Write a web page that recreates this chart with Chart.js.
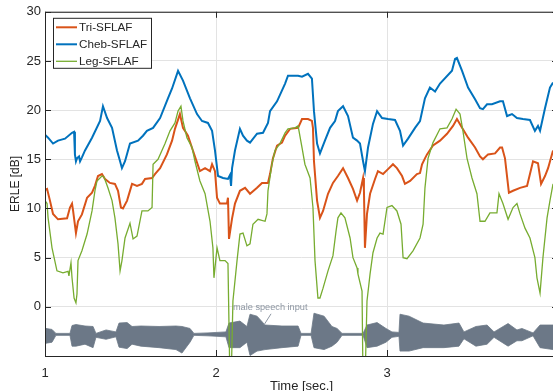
<!DOCTYPE html>
<html>
<head>
<meta charset="utf-8">
<script src="https://cdn.jsdelivr.net/npm/chart.js@4.4.1/dist/chart.umd.min.js"></script>
<style>
  html, body { margin: 0; padding: 0; overflow: hidden; background: #fff; }
  #wrap { position: absolute; left: 0; top: 0; width: 600px; height: 400px; }
</style>
</head>
<body>
<div id="wrap"><canvas id="erleChart" width="600" height="400"></canvas></div>
<script>
// ERLE curves of the three filters (time in seconds, ERLE in dB)
const seriesNames = ["Tri-SFLAF", "Cheb-SFLAF", "Leg-SFLAF"];

const triTime = [1.000,1.012,1.029,1.047,1.076,1.129,1.146,1.158,1.164,1.181,1.193,1.216,1.246,1.275,1.292,1.310,1.333,1.351,1.380,1.409,1.427,1.444,1.456,1.480,1.509,1.538,1.567,1.585,1.626,1.643,1.673,1.713,1.743,1.760,1.789,1.807,1.836,1.865,1.906,1.936,1.965,1.977,1.994,2.006,2.023,2.064,2.070,2.076,2.094,2.111,2.140,2.170,2.199,2.240,2.269,2.304,2.316,2.333,2.357,2.386,2.404,2.433,2.480,2.503,2.538,2.561,2.567,2.573,2.591,2.608,2.626,2.655,2.684,2.713,2.743,2.772,2.801,2.825,2.842,2.860,2.865,2.871,2.883,2.901,2.930,2.947,2.977,3.006,3.035,3.058,3.088,3.105,3.135,3.175,3.193,3.205,3.222,3.234,3.269,3.310,3.351,3.386,3.409,3.439,3.474,3.515,3.544,3.561,3.591,3.632,3.661,3.673,3.690,3.713,3.737,3.778,3.819,3.836,3.854,3.883,3.901,3.924,3.942,3.971];
const triErle = [11.9,12.0,10.8,9.45,8.9,9.0,10.1,10.5,9.8,7.5,8.7,9.4,11.1,11.6,12.3,13.3,13.5,13.0,12.6,12.5,11.8,10.1,10.0,10.8,12.5,12.3,12.5,13.0,13.1,13.5,14.1,15.5,16.9,18.1,19.6,18.2,17.4,15.9,13.8,14.1,13.8,14.5,13.8,11.1,10.5,10.5,11.1,6.9,9.0,10.5,11.8,12.1,11.5,12.1,12.6,12.6,13.5,15.1,16.4,16.7,17.4,18.1,18.2,19.1,19.1,18.9,18.2,14.8,10.8,9.05,9.75,11.5,12.6,13.3,14.1,13.1,12.0,10.8,11.6,13.1,12.0,6.0,9.45,11.5,13.0,13.8,13.5,14.0,14.5,14.1,13.3,12.5,12.8,13.5,13.6,14.5,15.1,15.5,16.4,16.9,17.6,18.4,19.1,18.2,17.2,16.2,15.3,15.0,15.5,15.6,16.2,16.2,15.1,11.6,11.8,12.1,12.3,13.5,14.8,14.6,12.5,13.3,14.1,15.9];

const chebTime = [1.000,1.018,1.047,1.076,1.117,1.158,1.170,1.175,1.181,1.187,1.199,1.205,1.216,1.234,1.275,1.322,1.339,1.363,1.392,1.421,1.439,1.450,1.468,1.497,1.544,1.573,1.596,1.632,1.673,1.719,1.743,1.778,1.807,1.848,1.889,1.918,1.953,1.977,1.994,2.012,2.041,2.070,2.082,2.088,2.094,2.111,2.140,2.158,2.181,2.199,2.240,2.275,2.304,2.316,2.357,2.404,2.421,2.480,2.503,2.538,2.561,2.573,2.591,2.608,2.637,2.667,2.696,2.713,2.743,2.772,2.801,2.825,2.842,2.860,2.871,2.889,2.918,2.942,2.971,3.006,3.047,3.076,3.094,3.123,3.164,3.193,3.222,3.251,3.281,3.310,3.380,3.398,3.409,3.439,3.474,3.515,3.544,3.561,3.585,3.614,3.661,3.678,3.702,3.731,3.760,3.795,3.836,3.865,3.883,3.895,3.924,3.953,3.971];
const chebErle = [17.5,17.2,16.6,16.9,17.1,17.7,17.8,15.5,14.8,15.1,15.3,14.8,15.2,15.9,17.2,18.9,20.4,19.2,18.2,15.9,14.8,14.1,14.8,16.6,16.9,17.4,17.9,18.2,19.2,21.2,22.2,24.0,23.0,21.2,19.6,18.9,18.7,17.9,15.9,13.3,13.1,13.0,13.4,12.3,14.1,15.9,18.1,17.4,16.9,16.7,17.6,17.7,18.7,19.9,20.9,22.7,23.5,23.5,23.4,23.7,23.2,19.9,16.6,15.6,16.9,18.2,18.9,19.9,20.4,19.4,17.2,16.9,16.6,14.8,13.8,16.2,18.6,19.9,19.2,19.1,19.0,17.9,16.4,17.1,18.2,18.9,21.2,22.3,21.9,22.7,24.0,25.2,25.3,24.0,22.3,21.1,20.2,20.1,20.6,20.6,20.9,20.9,19.4,19.6,19.2,19.1,19.0,17.9,18.4,17.9,20.2,22.3,22.8];

const legTime = [1.000,1.012,1.018,1.041,1.070,1.105,1.135,1.140,1.152,1.158,1.170,1.181,1.187,1.193,1.216,1.246,1.275,1.292,1.304,1.333,1.345,1.368,1.392,1.409,1.427,1.439,1.450,1.468,1.497,1.515,1.538,1.567,1.602,1.626,1.632,1.661,1.702,1.731,1.760,1.778,1.795,1.807,1.830,1.860,1.877,1.906,1.936,1.965,1.982,1.988,2.006,2.023,2.053,2.070,2.082,2.088,2.099,2.123,2.140,2.158,2.181,2.199,2.216,2.246,2.287,2.298,2.304,2.327,2.345,2.374,2.404,2.421,2.462,2.480,2.503,2.520,2.550,2.567,2.579,2.596,2.608,2.626,2.655,2.684,2.702,2.713,2.731,2.754,2.784,2.801,2.825,2.830,2.854,2.860,2.871,2.883,2.901,2.918,2.942,2.959,2.977,3.000,3.029,3.058,3.082,3.094,3.117,3.152,3.193,3.211,3.222,3.240,3.269,3.310,3.351,3.380,3.404,3.427,3.444,3.468,3.497,3.526,3.544,3.573,3.602,3.643,3.655,3.678,3.708,3.737,3.760,3.778,3.807,3.836,3.865,3.877,3.895,3.912,3.936,3.953,3.971];
const legErle = [10.8,10.5,9.05,6.0,3.66,3.46,3.6,3.15,4.47,2.95,0.9,0.4,1.3,4.7,5.7,7.4,9.75,11.8,12.8,13.3,13.2,12.1,10.8,9.05,6.4,3.66,4.7,7.0,8.5,6.9,7.2,9.75,9.75,10.1,14.5,15.0,16.6,17.9,18.7,19.9,20.4,18.9,17.2,16.2,14.8,12.8,11.5,8.7,6.0,2.95,6.0,4.7,4.7,4.4,-8,-8,0.6,4.7,7.4,7.5,6.2,6.4,8.4,8.9,8.7,9.45,11.8,14.5,15.9,16.6,17.7,18.1,18.2,18.4,16.2,14.5,13.1,10.1,4.7,0.9,0.9,1.9,3.66,5.2,7.7,9.05,9.55,9.05,7.0,5.0,3.96,3.35,1.6,-8,-8,0.6,3.35,5.5,7.0,7.5,7.4,10.1,10.3,9.75,8.4,5.0,4.9,5.7,7.0,8.4,12.1,15.1,16.7,18.1,18.2,19.1,20.1,19.6,17.9,15.1,13.1,11.5,8.7,8.7,9.55,9.55,11.5,10.5,8.9,10.1,10.5,9.45,8.0,7.0,5.0,2.95,1.4,5.0,9.05,10.8,12.5];

// envelope of the speech waveform drawn under the curves
const speechTime = [1.000,1.006,1.041,1.064,1.146,1.158,1.181,1.234,1.281,1.298,1.357,1.415,1.433,1.480,1.509,1.561,1.667,1.766,1.801,1.848,1.871,1.953,2.058,2.076,2.140,2.181,2.199,2.240,2.287,2.386,2.480,2.497,2.556,2.573,2.632,2.678,2.708,2.737,2.860,2.883,2.942,2.994,3.029,3.070,3.076,3.129,3.211,3.333,3.421,3.450,3.520,3.585,3.626,3.708,3.760,3.789,3.854,3.895,3.971,4.000];
const speechUpper = [-2.6,-2.2,-2.3,-2.7,-2.7,-1.9,-1.8,-1.95,-2.0,-2.7,-2.35,-2.55,-1.65,-1.6,-2.0,-1.95,-2.0,-1.95,-2.0,-2.2,-2.7,-2.65,-2.55,-1.65,-1.45,-2.0,-0.75,-0.95,-1.85,-1.95,-1.95,-2.7,-2.7,-0.65,-0.95,-2.0,-2.2,-2.7,-2.7,-1.85,-1.6,-2.2,-2.55,-2.6,-0.75,-0.95,-1.65,-1.85,-1.65,-2.55,-2.0,-1.85,-2.55,-1.7,-2.35,-2.2,-2.65,-1.85,-1.85,-1.9];
const speechLower = [-3.0,-3.7,-3.6,-2.9,-2.9,-4.0,-4.0,-3.8,-4.15,-3.1,-3.3,-3.05,-4.1,-4.25,-3.8,-4.0,-4.15,-4.35,-4.7,-3.6,-2.9,-2.95,-3.05,-4.15,-4.15,-3.6,-4.95,-4.5,-4.35,-4.15,-4.0,-2.9,-2.9,-4.15,-4.35,-4.0,-3.6,-2.9,-2.9,-4.15,-4.0,-3.6,-3.1,-3.0,-4.5,-4.5,-4.15,-4.15,-4.0,-3.25,-4.0,-3.8,-3.1,-4.0,-3.45,-3.45,-2.95,-4.15,-4.35,-4.3];

const xTicks = [1, 2, 3, 4];
const yTicks = [-5, 0, 5, 10, 15, 20, 25, 30];
const noteText = "male speech input";
const noteAt = [2.099, -0.05];
const noteArrow = [[2.322, -0.71], [2.281, -1.83]];

const colors = { tri: "#D95319", cheb: "#0072BD", leg: "#77AC30", speech: "#6c7887" };
const axisColor = "#262626";
const fontFamily = "'Liberation Sans', Arial, Helvetica, sans-serif";

function toPoints(ts, vs) {
  return ts.map((t, i) => ({ x: t, y: vs[i] }));
}

// box, inward tick marks, annotation and legend like the MATLAB figure
const figurePlugin = {
  id: "figure",
  afterDatasetsDraw(chart) {
    const { ctx, chartArea: a, scales: { x, y } } = chart;
    ctx.save();
    ctx.strokeStyle = axisColor;
    ctx.lineWidth = 1;
    ctx.strokeRect(a.left + 0.5, a.top + 0.5, a.right - a.left, a.bottom - a.top);
    ctx.beginPath();
    yTicks.forEach(v => {
      const py = Math.round(y.getPixelForValue(v)) + 0.5;
      ctx.moveTo(a.left, py); ctx.lineTo(a.left + 6, py);
      ctx.moveTo(a.right, py); ctx.lineTo(a.right - 6, py);
    });
    xTicks.forEach(v => {
      const px = Math.round(x.getPixelForValue(v)) + 0.5;
      ctx.moveTo(px, a.bottom); ctx.lineTo(px, a.bottom - 6);
      ctx.moveTo(px, a.top); ctx.lineTo(px, a.top + 6);
    });
    ctx.stroke();

    // annotation
    ctx.fillStyle = "#8d96a2";
    ctx.strokeStyle = "#8d96a2";
    ctx.font = "9.2px " + fontFamily;
    ctx.textBaseline = "middle";
    ctx.textAlign = "left";
    ctx.fillText(noteText, x.getPixelForValue(noteAt[0]), y.getPixelForValue(noteAt[1]));
    ctx.beginPath();
    ctx.moveTo(x.getPixelForValue(noteArrow[0][0]), y.getPixelForValue(noteArrow[0][1]));
    ctx.lineTo(x.getPixelForValue(noteArrow[1][0]), y.getPixelForValue(noteArrow[1][1]));
    ctx.stroke();

    // legend
    const lx = a.left + 8, ly = a.top + 6, lw = 98, lh = 50;
    ctx.fillStyle = "#fff";
    ctx.fillRect(lx, ly, lw, lh);
    ctx.strokeStyle = axisColor;
    ctx.strokeRect(lx + 0.5, ly + 0.5, lw, lh);
    ctx.font = "11.7px " + fontFamily;
    chart.data.datasets.slice(0, 3).forEach((ds, i) => {
      const cy = ly + 9.5 + i * 17;
      ctx.strokeStyle = ds.borderColor;
      ctx.lineWidth = ds.borderWidth;
      ctx.beginPath();
      ctx.moveTo(lx + 3, cy); ctx.lineTo(lx + 24, cy);
      ctx.stroke();
      ctx.fillStyle = axisColor;
      ctx.fillText(ds.label, lx + 26, cy + 0.5);
    });
    ctx.restore();
  }
};

const ctx = document.getElementById("erleChart").getContext("2d");
const erleChart = new Chart(ctx, {
  type: "line",
  data: {
    datasets: [
      { label: seriesNames[0], data: toPoints(triTime, triErle), borderColor: colors.tri, borderWidth: 2, order: 3 },
      { label: seriesNames[1], data: toPoints(chebTime, chebErle), borderColor: colors.cheb, borderWidth: 2, order: 2 },
      { label: seriesNames[2], data: toPoints(legTime, legErle), borderColor: colors.leg, borderWidth: 1.3, order: 1 },
      { label: "speech", data: toPoints(speechTime, speechUpper), borderColor: colors.speech, borderWidth: 0.8,
        backgroundColor: colors.speech, fill: { target: 4 }, order: 6 },
      { label: "speech low", data: toPoints(speechTime, speechLower), borderColor: colors.speech, borderWidth: 0.8,
        fill: false, order: 5 }
    ]
  },
  options: {
    responsive: false,
    animation: false,
    events: [],
    elements: { point: { radius: 0 }, line: { tension: 0 } },
    layout: { padding: { top: 10, right: 42, left: 0, bottom: 0 } },
    plugins: { legend: { display: false }, tooltip: { enabled: false } },
    scales: {
      x: {
        type: "linear",
        min: xTicks[0],
        max: xTicks[xTicks.length - 1],
        afterFit: s => { s.height = 44; },
        afterBuildTicks: s => { s.ticks = xTicks.map(v => ({ value: v })); },
        ticks: { autoSkip: false, maxRotation: 0, padding: 10, color: axisColor,
                 font: { family: fontFamily, size: 13 } },
        grid: { color: "#e3e3e3", drawTicks: false },
        border: { display: false },
        title: { display: true, text: "Time [sec.]", color: axisColor, padding: { top: 0, bottom: 6 },
                 font: { family: fontFamily, size: 13 } }
      },
      y: {
        min: yTicks[0],
        max: yTicks[yTicks.length - 1],
        afterFit: s => { s.width = 45; },
        afterBuildTicks: s => { s.ticks = yTicks.map(v => ({ value: v })); },
        ticks: { padding: 4, color: axisColor, font: { family: fontFamily, size: 13 },
                 callback: v => (v === yTicks[0] ? "" : v) },
        grid: { color: "#e3e3e3", drawTicks: false },
        border: { display: false },
        title: { display: true, text: "ERLE [dB]", color: axisColor, padding: { top: 8, bottom: 0 },
                 font: { family: fontFamily, size: 12 } }
      }
    }
  },
  plugins: [figurePlugin]
});
</script>
</body>
</html>
